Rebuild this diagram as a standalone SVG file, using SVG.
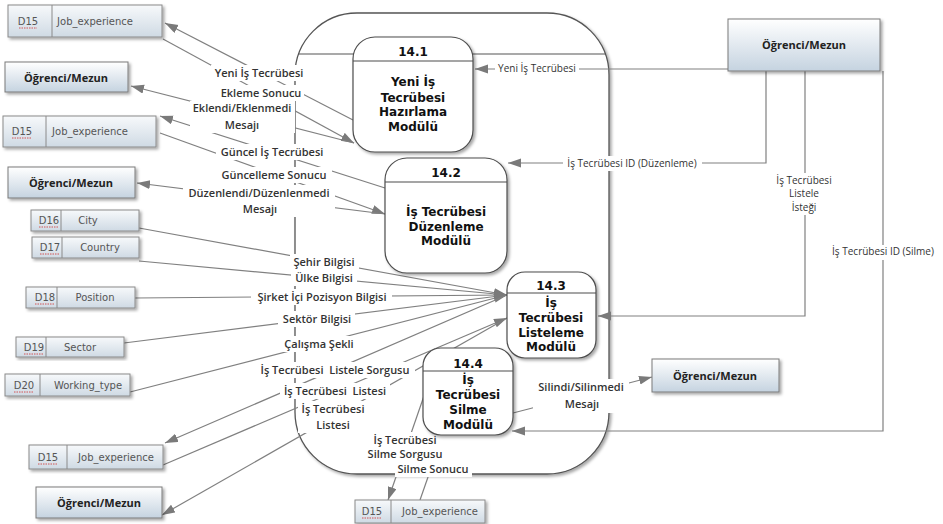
<svg xmlns="http://www.w3.org/2000/svg" width="943" height="524" viewBox="0 0 943 524">
<style>
.bg{fill:#ffffff}
.cont{fill:#ffffff;stroke:#555555;stroke-width:1.3}
.proc rect{fill:#ffffff;stroke:#4d4d4d;stroke-width:1.2}
.proc line{stroke:#4d4d4d;stroke-width:1.2}
.proc text{font-family:"DejaVu Sans",Verdana,sans-serif;font-weight:bold;font-size:12px;fill:#111111;text-anchor:middle}
.ent rect{fill:url(#gEnt);stroke:#7a7a7a;stroke-width:1}
.ent text{font-family:"Open Sans","Liberation Sans",sans-serif;font-weight:700;font-size:11px;fill:#222222;text-anchor:middle}
.ds rect{fill:url(#gDs);stroke:#8a8a8a;stroke-width:1}
.ds line{stroke:#8a8a8a;stroke-width:1}
.ds text{font-family:"DejaVu Sans",Verdana,sans-serif;font-size:10px;fill:#555555;text-anchor:middle}
.ds path{fill:none;stroke:#d03030;stroke-width:0.8;stroke-dasharray:1.5 1}
.conn path{fill:none;stroke:#808080;stroke-width:1.2;marker-end:url(#arr)}
.lbl rect{fill:#ffffff}
.lbl text{font-family:"Open Sans","Liberation Sans",sans-serif;font-weight:600;font-size:11px;fill:#333333;text-anchor:middle}
.lbl.r text{font-weight:400;font-size:10px}
</style>
<defs>
<linearGradient id="gEnt" x1="0" y1="0" x2="0" y2="1">
<stop offset="0" stop-color="#ffffff"/>
<stop offset="1" stop-color="#c5d3e0"/>
</linearGradient>
<linearGradient id="gDs" x1="0" y1="0" x2="0" y2="1">
<stop offset="0" stop-color="#f7f9fb"/>
<stop offset="1" stop-color="#cfdae4"/>
</linearGradient>
<filter id="sh" x="-10%" y="-10%" width="130%" height="130%">
<feDropShadow dx="2" dy="2" stdDeviation="1.5" flood-color="#000000" flood-opacity="0.35"/>
</filter>
<marker id="arr" markerUnits="userSpaceOnUse" markerWidth="14" markerHeight="10" refX="13" refY="4.5" orient="auto">
<path d="M0,0 L13,4.5 L0,9 z" fill="#7a7a7a"/>
</marker>
</defs>
<rect class="bg" x="0" y="0" width="943" height="524"/>

<g id="container">
<rect class="cont" x="295" y="13" width="314" height="461" rx="62" filter="url(#sh)"/>
<line x1="298" y1="54" x2="606" y2="54" stroke="#555555" stroke-width="1.2"/>
</g>

<g id="connectors" class="conn">
<path d="M353,120 L165,23"/>
<path d="M163,39 L354,143"/>
<path d="M354,143 L131,86"/>
<path d="M385,188 L160,116"/>
<path d="M160,133 L385,214"/>
<path d="M385,214 L137,183"/>
<path d="M728,69 L475,69"/>
<path d="M766,71 L766,163 L508,163"/>
<path d="M805,71 L805,316 L598,316"/>
<path d="M883,71 L883,431 L512,431"/>
<path d="M513,413 L652,377"/>
<path d="M425,393 L388,500"/>
<path d="M420,500 L442,437"/>
<path d="M139,228 L507,295"/>
<path d="M139,261 L507,295"/>
<path d="M135,298 L507,295"/>
<path d="M124,343 L507,295"/>
<path d="M130,392 L507,295"/>
<path d="M507,295 L165,443"/>
<path d="M163,465 L507,318"/>
<path d="M507,318 L162,515"/>

<g class="lbl"><rect x="211" y="65" width="96" height="16"/><text x="259" y="77">Yeni İş Tecrübesi</text></g>
<g class="lbl"><rect x="218" y="85" width="86" height="16"/><text x="261" y="97">Ekleme Sonucu</text></g>
<g class="lbl"><rect x="190" y="101" width="105" height="32"/><text x="242" y="112">Eklendi/Eklenmedi</text><text x="242" y="129">Mesajı</text></g>
<g class="lbl"><rect x="216" y="144" width="113" height="16"/><text x="272" y="156">Güncel İş Tecrübesi</text></g>
<g class="lbl"><rect x="216" y="167" width="116" height="16"/><text x="274" y="179">Güncelleme Sonucu</text></g>
<g class="lbl"><rect x="183" y="185" width="152" height="32"/><text x="259" y="197">Düzenlendi/Düzenlenmedi</text><text x="260" y="213">Mesajı</text></g>
<g class="lbl"><rect x="290" y="254" width="69" height="16"/><text x="324" y="266">Şehir Bilgisi</text></g>
<g class="lbl"><rect x="291" y="270" width="66" height="16"/><text x="324" y="282">Ülke Bilgisi</text></g>
<g class="lbl"><rect x="251" y="289" width="141" height="16"/><text x="322" y="301">Şirket İçi Pozisyon Bilgisi</text></g>
<g class="lbl"><rect x="278" y="311" width="77" height="16"/><text x="317" y="323">Sektör Bilgisi</text></g>
<g class="lbl"><rect x="281" y="336" width="76" height="16"/><text x="319" y="348">Çalışma Şekli</text></g>
<g class="lbl"><rect x="255" y="362" width="160" height="16"/><text x="335" y="374">İş Tecrübesi&#160; Listele Sorgusu</text></g>
<g class="lbl"><rect x="280" y="383" width="110" height="16"/><text x="335" y="395">İş Tecrübesi&#160; Listesi</text></g>
<g class="lbl"><rect x="298" y="401" width="70" height="32"/><text x="333" y="413">İş Tecrübesi</text><text x="333" y="429">Listesi</text></g>
<g class="lbl"><rect x="368" y="432" width="76" height="29"/><text x="405" y="444">İş Tecrübesi</text><text x="405" y="458">Silme Sorgusu</text></g>
<g class="lbl"><rect x="395" y="461" width="77" height="16"/><text x="433" y="473">Silme Sonucu</text></g>
<g class="lbl"><rect x="533" y="379" width="96" height="34"/><text x="581" y="391">Silindi/Silinmedi</text><text x="582" y="408">Mesajı</text></g>
<g class="lbl r"><rect x="495" y="62" width="84" height="14"/><text x="537" y="72">Yeni İş Tecrübesi</text></g>
<g class="lbl r"><rect x="563" y="156" width="139" height="15"/><text x="632" y="167">İş Tecrübesi ID (Düzenleme)</text></g>
<g class="lbl r"><rect x="775" y="173" width="59" height="42"/><text x="804" y="184">İş Tecrübesi</text><text x="804" y="197">Listele</text><text x="804" y="211">İsteği</text></g>
<g class="lbl r"><rect x="826" y="245" width="114" height="15"/><text x="883" y="255">İş Tecrübesi ID (Silme)</text></g>
</g>

<g id="p141" class="proc"><rect x="353" y="37" width="120" height="115" rx="22" filter="url(#sh)"/><line x1="353" y1="61" x2="473" y2="61"/><text x="413" y="56">14.1</text><text x="413" y="86">Yeni İş</text><text x="413" y="102">Tecrübesi</text><text x="413" y="116">Hazırlama</text><text x="413" y="131">Modülü</text></g>
<g id="p142" class="proc"><rect x="385" y="158" width="122" height="115" rx="22" filter="url(#sh)"/><line x1="385" y1="182" x2="507" y2="182"/><text x="446" y="177">14.2</text><text x="446" y="216">İş Tecrübesi</text><text x="446" y="231">Düzenleme</text><text x="446" y="245">Modülü</text></g>
<g id="p143" class="proc"><rect x="507" y="272" width="89" height="86" rx="18" filter="url(#sh)"/><line x1="507" y1="293" x2="596" y2="293"/><text x="551" y="290">14.3</text><text x="551" y="307">İş</text><text x="551" y="322">Tecrübesi</text><text x="551" y="337">Listeleme</text><text x="551" y="351">Modülü</text></g>
<g id="p144" class="proc"><rect x="423" y="348" width="90" height="87" rx="18" filter="url(#sh)"/><line x1="423" y1="371" x2="513" y2="371"/><text x="468" y="368">14.4</text><text x="468" y="384">İş</text><text x="468" y="399">Tecrübesi</text><text x="468" y="414">Silme</text><text x="468" y="429">Modülü</text></g>

<g id="e_tr" class="ent"><rect x="728" y="19" width="152" height="52" filter="url(#sh)"/><text x="804" y="49">Öğrenci/Mezun</text></g>
<g id="e_l1" class="ent"><rect x="5" y="62" width="123" height="30" filter="url(#sh)"/><text x="66" y="82">Öğrenci/Mezun</text></g>
<g id="e_l2" class="ent"><rect x="8" y="167" width="127" height="31" filter="url(#sh)"/><text x="71" y="187">Öğrenci/Mezun</text></g>
<g id="e_bl" class="ent"><rect x="36" y="487" width="126" height="31" filter="url(#sh)"/><text x="99" y="507">Öğrenci/Mezun</text></g>
<g id="e_r" class="ent"><rect x="652" y="359" width="127" height="33" filter="url(#sh)"/><text x="715" y="380">Öğrenci/Mezun</text></g>

<g id="d15a" class="ds"><rect x="8" y="5" width="154" height="32" filter="url(#sh)"/><line x1="52" y1="5" x2="52" y2="37"/><text x="28" y="25">D15</text><path d="M19,28 l18,0"/><text x="95" y="25">Job_experience</text></g>
<g id="d15b" class="ds"><rect x="3" y="116" width="153" height="31" filter="url(#sh)"/><line x1="46" y1="116" x2="46" y2="147"/><text x="22" y="135">D15</text><path d="M12,138 l20,0"/><text x="90" y="135">Job_experience</text></g>
<g id="d16" class="ds"><rect x="31" y="210" width="108" height="21" filter="url(#sh)"/><line x1="61" y1="210" x2="61" y2="231"/><text x="49" y="224">D16</text><path d="M39,227 l20,0"/><text x="88" y="224">City</text></g>
<g id="d17" class="ds"><rect x="32" y="237" width="107" height="21" filter="url(#sh)"/><line x1="62" y1="237" x2="62" y2="258"/><text x="50" y="251">D17</text><path d="M40,254 l20,0"/><text x="100" y="251">Country</text></g>
<g id="d18" class="ds"><rect x="26" y="287" width="109" height="21" filter="url(#sh)"/><line x1="57" y1="287" x2="57" y2="308"/><text x="45" y="301">D18</text><path d="M35,304 l20,0"/><text x="95" y="301">Position</text></g>
<g id="d19" class="ds"><rect x="16" y="337" width="108" height="20" filter="url(#sh)"/><line x1="46" y1="337" x2="46" y2="357"/><text x="34" y="351">D19</text><path d="M24,354 l20,0"/><text x="80" y="351">Sector</text></g>
<g id="d20" class="ds"><rect x="5" y="374" width="125" height="22" filter="url(#sh)"/><line x1="40" y1="374" x2="40" y2="396"/><text x="24" y="389">D20</text><path d="M14,392 l20,0"/><text x="88" y="389">Working_type</text></g>
<g id="d15c" class="ds"><rect x="29" y="445" width="134" height="24" filter="url(#sh)"/><line x1="67" y1="445" x2="67" y2="469"/><text x="48" y="461">D15</text><path d="M38,464 l20,0"/><text x="116" y="461">Job_experience</text></g>
<g id="d15d" class="ds"><rect x="355" y="500" width="130" height="23" filter="url(#sh)"/><line x1="391" y1="500" x2="391" y2="523"/><text x="372" y="515">D15</text><path d="M362,518 l20,0"/><text x="440" y="515">Job_experience</text></g>
</svg>
